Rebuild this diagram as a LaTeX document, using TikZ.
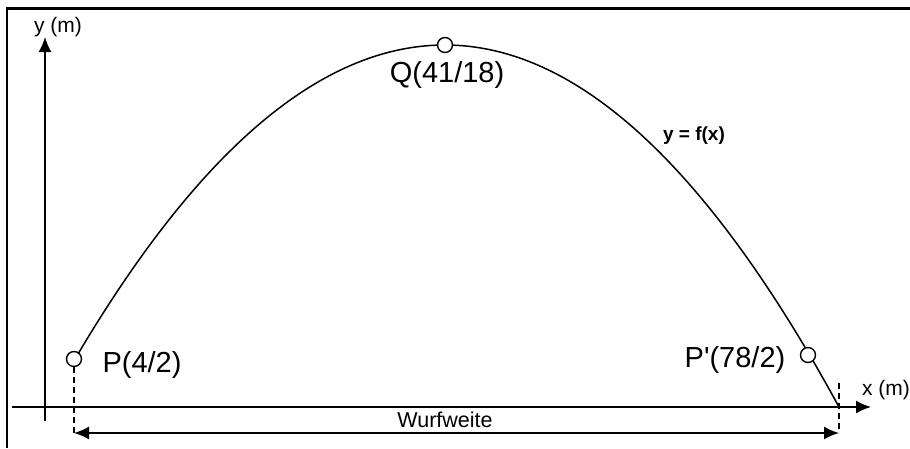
\documentclass[tikz,border=0pt]{standalone}
\usepackage{fontspec}
\setmainfont{Liberation Sans}
\usetikzlibrary{arrows.meta}
\begin{document}
\begin{tikzpicture}[x=1pt,y=-1pt,
  frame/.style={line width=2.5pt},
  axis/.style={line width=1.7pt},
  curve/.style={line width=1.5pt},
  tip/.style={-{Latex[length=15pt,width=13pt]}},
  dimline/.style={line width=1.6pt,{Latex[length=15pt,width=13pt]}-{Latex[length=15pt,width=13pt]}},
  guide/.style={line width=1.5pt,dash pattern=on 6pt off 4pt},
  pt/.style={circle,draw,fill=white,minimum size=15pt,inner sep=0pt,line width=1.4pt},
  big/.style={font=\fontsize{29}{32}\selectfont,inner sep=0pt},
  mid/.style={font=\fontsize{21.5}{24}\selectfont,inner sep=0pt},
  axlab/.style={font=\fontsize{21}{23}\selectfont,inner sep=0pt},
  small/.style={font=\fontsize{19}{21}\selectfont\bfseries,inner sep=0pt}]
\useasboundingbox (0,0) rectangle (910,448);
% frame
\draw[frame] (7,448) -- (7,8.5) -- (910,8.5);
% axes
\coordinate (xs) at (12,407);
\coordinate (xe) at (871,407);
\coordinate (ys) at (45,421);
\coordinate (ye) at (45,37);
\draw[axis,tip] (xs) -- (xe);
\draw[axis,tip] (ys) -- (ye);
\node[axlab] (ylab) at (58,27) {y (m)};
\node[axlab] (xlab) at (886,390) {x (m)};
% curve
\draw[curve] plot[domain=74:445,samples=90] (\x,{45+22.94*((\x-445)/100)^2});
\draw[curve] plot[domain=445:839,samples=90] (\x,{45+23.32*((\x-445)/100)^2});
% points
\node[pt] (P) at (74,359) {};
\node[pt] (Q) at (445,45) {};
\node[pt] (P2) at (808,355) {};
\node[big] (Plab) at (142,365) {P(4/2)};
\node[big] (Qlab) at (447,75) {Q(41/18)};
\node[big] (P2lab) at (735,360) {P\textquotesingle(78/2)};
\node[small] (flab) at (694,136) {y = f(x)};
% Wurfweite
\coordinate (L) at (74,433);
\coordinate (R) at (839,433);
\coordinate (Rtop) at (839,383);
\draw[guide] (P.south) -- (L);
\draw[guide] (Rtop) -- (R);
\draw[dimline] (L) -- (R);
\node[mid] (wlab) at (445,420) {Wurfweite};
\end{tikzpicture}
\end{document}
